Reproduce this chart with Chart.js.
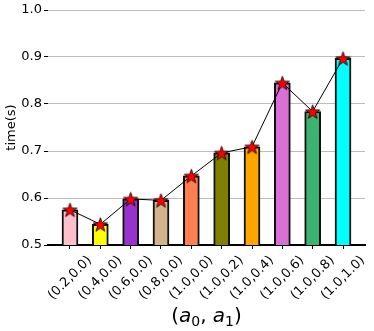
<!DOCTYPE html>
<html>
<head>
<meta charset="utf-8">
<script src="https://cdn.jsdelivr.net/npm/chart.js@4/dist/chart.umd.min.js"></script>
<style>
  html, body { margin: 0; padding: 0; background: #fff; }
  #wrap { width: 374px; height: 331px; }
</style>
</head>
<body>
<div id="wrap"><canvas id="chart" width="374" height="331"></canvas></div>
<script>
// data
const configs = ['(0.2,0.0)', '(0.4,0.0)', '(0.6,0.0)', '(0.8,0.0)', '(1.0,0.0)',
                 '(1.0,0.2)', '(1.0,0.4)', '(1.0,0.6)', '(1.0,0.8)', '(1.0,1.0)'];
const times = [0.575, 0.544, 0.598, 0.595, 0.647, 0.696, 0.709, 0.845, 0.784, 0.897];
const yTicks = [0.5, 0.6, 0.7, 0.8, 0.9, 1.0];

const barColors = ['#FFC0CB', '#FFFF00', '#9932CC', '#D2B48C', '#FF7F50',
                   '#808000', '#FFA500', '#DA70D6', '#3CB371', '#00FFFF'];
const font = "'DejaVu Sans'";

// filled red star with black edge, used as point style
function makeStar(r) {
  const c = document.createElement('canvas');
  const s = Math.ceil(r * 2 + 4);
  c.width = s; c.height = s;
  const g = c.getContext('2d');
  g.translate(s / 2, s / 2 + 0.8);
  g.beginPath();
  for (let i = 0; i < 10; i++) {
    const rad = i % 2 === 0 ? r : r * 0.4;
    const a = -Math.PI / 2 + i * Math.PI / 5;
    g.lineTo(rad * Math.cos(a), rad * Math.sin(a));
  }
  g.closePath();
  g.fillStyle = '#ff0000';
  g.fill();
  g.lineWidth = 0.8;
  g.strokeStyle = '#000';
  g.stroke();
  return c;
}
const star = makeStar(7.5);

const pts = times.map((v, i) => ({ x: i, y: v }));

// rotated x labels (centred on tick) and axis titles
const textPlugin = {
  id: 'texts',
  afterDraw(chart) {
    const { ctx, chartArea: { left, right, top, bottom }, scales: { x } } = chart;
    ctx.save();
    ctx.fillStyle = '#000';
    ctx.font = `13px ${font}`;
    ctx.textAlign = 'center';
    ctx.textBaseline = 'middle';
    configs.forEach((lab, i) => {
      const px = x.getPixelForValue(i);
      ctx.save();
      ctx.translate(px, bottom + 33);
      ctx.rotate(-Math.PI / 4);
      ctx.fillText(lab, 0, 0);
      ctx.restore();
    });

    // y title
    ctx.save();
    ctx.translate(12, (top + bottom) / 2);
    ctx.rotate(-Math.PI / 2);
    ctx.font = `13px ${font}`;
    ctx.fillText('time(s)', 0, 0);
    ctx.restore();

    // x title: (a0, a1) in mathtext style
    const parts = [
      { t: '(', f: `20px ${font}`, dy: 0 },
      { t: 'a', f: `oblique 20px ${font}`, dy: 0 },
      { t: '0', f: `14px ${font}`, dy: 4 },
      { t: ', ', f: `20px ${font}`, dy: 0 },
      { t: 'a', f: `oblique 20px ${font}`, dy: 0 },
      { t: '1', f: `14px ${font}`, dy: 4 },
      { t: ')', f: `20px ${font}`, dy: 0 },
    ];
    let total = 0;
    parts.forEach(p => { ctx.font = p.f; p.w = ctx.measureText(p.t).width; total += p.w; });
    let cx = (left + right) / 2 - total / 2;
    ctx.textAlign = 'left';
    ctx.textBaseline = 'alphabetic';
    const base = 322;
    parts.forEach(p => {
      ctx.font = p.f;
      ctx.fillText(p.t, cx, base + p.dy);
      cx += p.w;
    });
    ctx.restore();
  },
};

new Chart(document.getElementById('chart').getContext('2d'), {
  data: {
    datasets: [
      {
        type: 'line',
        data: pts,
        borderColor: '#000',
        borderWidth: 1,
        pointStyle: star,
        pointRadius: 7,
        tension: 0,
        order: 0,
      },
      {
        type: 'bar',
        data: pts,
        backgroundColor: barColors,
        borderColor: '#111',
        borderWidth: 2,
        barThickness: 16,
        order: 1,
      },
    ],
  },
  plugins: [textPlugin],
  options: {
    responsive: false,
    animation: false,
    devicePixelRatio: 1,
    layout: { padding: { top: 10, right: 9 } },
    plugins: { legend: { display: false }, tooltip: { enabled: false } },
    scales: {
      x: {
        type: 'linear',
        offset: false,
        min: -0.725,
        max: 9.725,
        afterBuildTicks: s => { s.ticks = configs.map((_, i) => ({ value: i })); },
        afterFit: s => { s.height = 86; },
        ticks: { display: false },
        grid: { drawOnChartArea: false, offset: false, tickLength: 4, tickColor: '#000', tickWidth: 1 },
        border: { color: '#000', width: 2 },
      },
      y: {
        min: 0.5,
        max: 1.0,
        afterBuildTicks: s => { s.ticks = yTicks.map(v => ({ value: v })); },
        afterFit: s => { s.width = 48; },
        ticks: {
          color: '#000',
          padding: 2,
          font: { family: font, size: 13 },
          callback: v => v.toFixed(1),
        },
        grid: { color: '#bdbdbd', lineWidth: 1, tickLength: 4, tickColor: '#000' },
        border: { display: false },
      },
    },
  },
});
</script>
</body>
</html>
